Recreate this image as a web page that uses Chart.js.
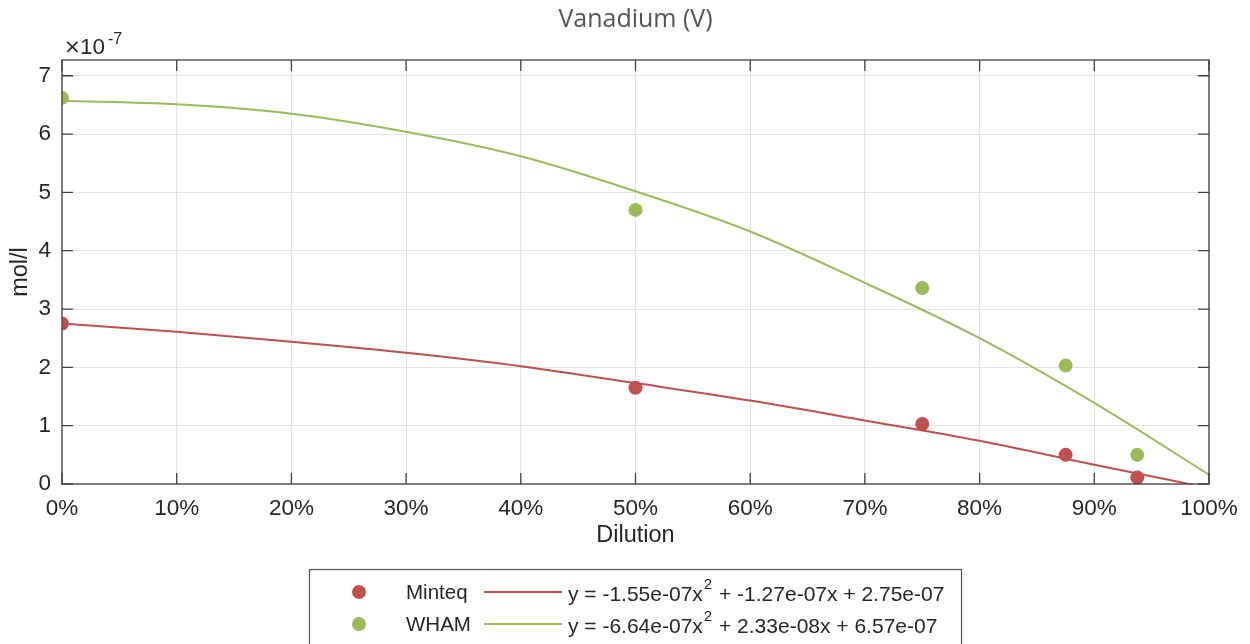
<!DOCTYPE html>
<html>
<head>
<meta charset="utf-8">
<script src="https://cdn.jsdelivr.net/npm/chart.js@4.4.1/dist/chart.umd.min.js"></script>
<style>
  html, body { margin: 0; padding: 0; background: #fff; }
  #wrap { position: relative; width: 1250px; height: 644px; }
</style>
</head>
<body>
<div id="wrap"><canvas id="myChart"></canvas></div>
<script>
// measured points (mol/l, in units of 1e-7)
const dilution = [0, 0.5, 0.75, 0.875, 0.9375];
const minteq = [2.75, 1.65, 1.03, 0.50, 0.11];
const wham = [6.62, 4.70, 3.36, 2.03, 0.50];

// fitted curves
const fitX = [0, 0.1, 0.2, 0.3, 0.4, 0.5, 0.6, 0.7, 0.8, 0.9, 1.0];
const minteqFit = [2.75, 2.61, 2.44, 2.25, 2.02, 1.73, 1.43, 1.09, 0.74, 0.33, -0.07];
const whamFit = [6.57, 6.51, 6.35, 6.04, 5.62, 5.02, 4.33, 3.45, 2.50, 1.39, 0.16];

const seriesNames = ["Minteq", "WHAM"];
const fitEquations = [
  ["y = -1.55e-07x", "2", " + -1.27e-07x + 2.75e-07"],
  ["y = -6.64e-07x", "2", " + 2.33e-08x + 6.57e-07"]
];
const colors = ['#c0504d', '#9bbb59'];

const xTickStep = 0.1;
const yTickStep = 1;

function pts(xs, ys) { return xs.map((x, i) => ({ x: x, y: ys[i] })); }

const TXT = '#262626';
const BOX = '#404040';
const SANS = '"Liberation Sans", Arial, sans-serif';

// frame, inward ticks, labels, legend
const matlabLook = {
  id: 'matlabLook',
  afterDatasetsDraw(chart) {
    const ctx = chart.ctx;
    const a = chart.chartArea;
    const xs = chart.scales.x, ys = chart.scales.y;
    ctx.save();
    ctx.strokeStyle = BOX;
    ctx.lineWidth = 1.3;
    ctx.strokeRect(a.left, a.top, a.right - a.left, a.bottom - a.top);
    const tl = 11;
    ctx.beginPath();
    xs.ticks.forEach(t => {
      const px = xs.getPixelForValue(t.value);
      ctx.moveTo(px, a.bottom); ctx.lineTo(px, a.bottom - tl);
      ctx.moveTo(px, a.top); ctx.lineTo(px, a.top + tl);
    });
    ys.ticks.forEach(t => {
      const py = ys.getPixelForValue(t.value);
      ctx.moveTo(a.left, py); ctx.lineTo(a.left + tl, py);
      ctx.moveTo(a.right, py); ctx.lineTo(a.right - tl, py);
    });
    ctx.stroke();
    ctx.restore();
  },
  afterDraw(chart) {
    const ctx = chart.ctx;
    const a = chart.chartArea;
    ctx.save();
    // title
    ctx.fillStyle = '#555555';
    ctx.font = '25px "Open Sans", "Noto Sans", sans-serif';
    ctx.textAlign = 'center';
    ctx.textBaseline = 'middle';
    ctx.fillText('Vanadium (V)', (a.left + a.right) / 2, 20);

    // axis titles
    ctx.fillStyle = TXT;
    ctx.font = '23.5px ' + SANS;
    ctx.fillText('Dilution', (a.left + a.right) / 2, 536);
    ctx.save();
    ctx.translate(21, (a.top + a.bottom) / 2);
    ctx.rotate(-Math.PI / 2);
    ctx.fillText('mol/l', 0, 0);
    ctx.restore();

    // exponent
    ctx.textAlign = 'left';
    ctx.textBaseline = 'alphabetic';
    ctx.font = '20px "DejaVu Sans", sans-serif';
    ctx.fillText('\u00d7', 64, 53);
    ctx.font = '22.5px ' + SANS;
    ctx.fillText('10', 80, 54);
    ctx.font = '16px ' + SANS;
    ctx.fillText('-7', 108, 44);

    // legend
    ctx.fillStyle = '#fff';
    ctx.fillRect(309, 569, 653, 90);
    ctx.strokeStyle = '#555';
    ctx.lineWidth = 1.2;
    ctx.strokeRect(309.5, 569.5, 652, 90);
    seriesNames.forEach((name, i) => {
      const y = 592 + i * 32;
      ctx.fillStyle = colors[i];
      ctx.beginPath();
      ctx.arc(359, y, 7, 0, Math.PI * 2);
      ctx.fill();
      ctx.fillStyle = TXT;
      ctx.font = '20.5px ' + SANS;
      ctx.textBaseline = 'middle';
      ctx.fillText(name, 406, y + 1);
      ctx.strokeStyle = colors[i];
      ctx.lineWidth = 2;
      ctx.beginPath();
      ctx.moveTo(484, y); ctx.lineTo(562, y);
      ctx.stroke();
      const eq = fitEquations[i];
      let x = 568;
      ctx.font = '21px ' + SANS;
      ctx.fillText(eq[0], x, y + 3);
      x += ctx.measureText(eq[0]).width;
      ctx.font = '15px ' + SANS;
      ctx.fillText(eq[1], x + 1, y - 7);
      x += ctx.measureText(eq[1]).width + 2;
      ctx.font = '21px ' + SANS;
      ctx.fillText(eq[2], x, y + 3);
    });
    ctx.restore();
  }
};

new Chart(document.getElementById('myChart'), {
  type: 'scatter',
  data: {
    datasets: [
      { label: seriesNames[0], data: pts(dilution, minteq), backgroundColor: colors[0], borderColor: colors[0], pointRadius: 7, pointHoverRadius: 7, borderWidth: 0 },
      { label: seriesNames[1], data: pts(dilution, wham), backgroundColor: colors[1], borderColor: colors[1], pointRadius: 7, pointHoverRadius: 7, borderWidth: 0 },
      { label: 'Minteq fit', type: 'line', data: pts(fitX, minteqFit), borderColor: colors[0], borderWidth: 2, pointRadius: 0, cubicInterpolationMode: 'monotone', fill: false },
      { label: 'WHAM fit', type: 'line', data: pts(fitX, whamFit), borderColor: colors[1], borderWidth: 2, pointRadius: 0, cubicInterpolationMode: 'monotone', fill: false }
    ]
  },
  options: {
    responsive: true,
    maintainAspectRatio: false,
    animation: false,
    layout: { padding: { top: 60, right: 41, left: 0, bottom: 0 } },
    plugins: {
      legend: { display: false },
      title: { display: false },
      tooltip: { enabled: false }
    },
    scales: {
      x: {
        type: 'linear',
        min: 0, max: 1,
        afterFit(s) { s.height = 160; },
        grid: { color: '#e3e3e3', lineWidth: 1, drawTicks: false },
        border: { display: false },
        ticks: {
          stepSize: xTickStep,
          padding: 11,
          color: TXT,
          font: { family: SANS, size: 22.5 },
          maxRotation: 0,
          callback: v => Math.round(v * 100) + '%'
        }
      },
      y: {
        min: 0, max: 7.27,
        afterFit(s) { s.width = 62; },
        grid: { color: '#e3e3e3', lineWidth: 1, drawTicks: false },
        border: { display: false },
        ticks: {
          stepSize: yTickStep,
          includeBounds: false,
          padding: 11,
          color: TXT,
          font: { family: SANS, size: 22.5 }
        }
      }
    }
  },
  plugins: [matlabLook]
});
</script>
</body>
</html>
